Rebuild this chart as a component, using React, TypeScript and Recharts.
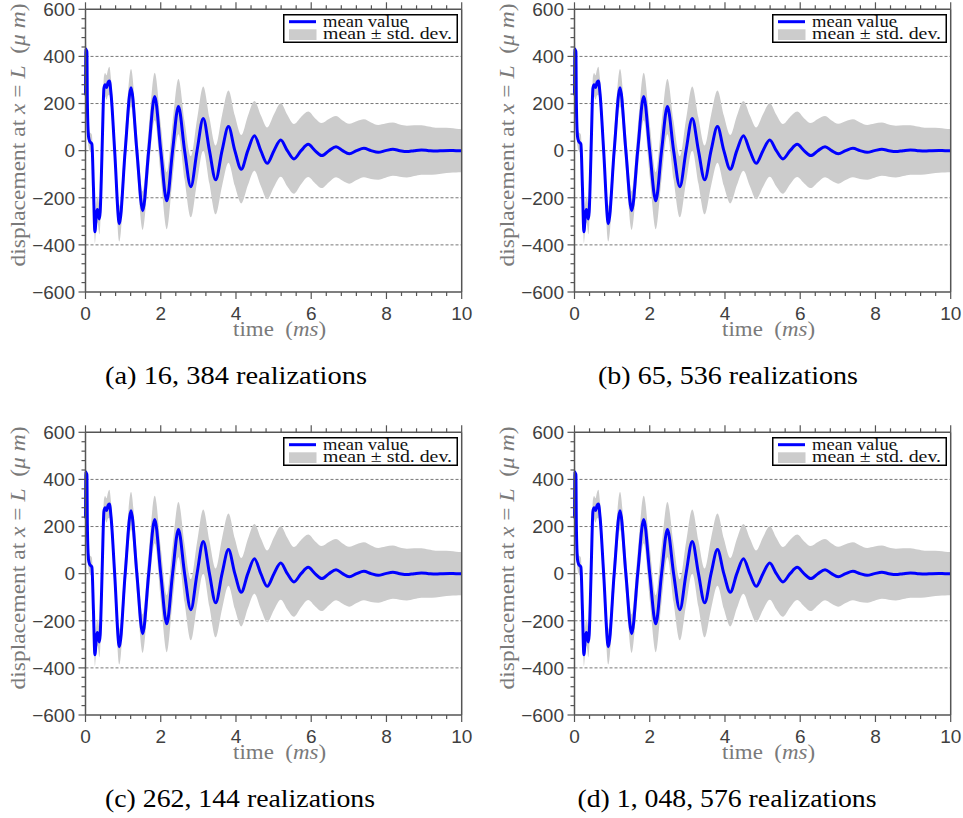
import React from 'react'
import { ComposedChart, Area, Line, XAxis, YAxis, CartesianGrid, Legend } from 'recharts'

// time (ms), mean displacement and standard deviation (micro m)
const time = [
  0.0, 0.012, 0.024, 0.036, 0.05, 0.08, 0.11, 0.17, 0.21, 0.25,
  0.29, 0.315, 0.34, 0.365, 0.39, 0.42, 0.45, 0.49, 0.52, 0.56,
  0.6, 0.635, 0.68, 0.775, 0.9, 1.055, 1.21, 1.365, 1.52, 1.68,
  1.84, 2.0, 2.16, 2.315, 2.47, 2.635, 2.8, 2.965, 3.13, 3.295,
  3.46, 3.63, 3.8, 3.97, 4.14, 4.315, 4.49, 4.66, 4.83, 5.01,
  5.19, 5.365, 5.54, 5.73, 5.92, 6.1, 6.28, 6.47, 6.66, 6.835,
  7.01, 7.205, 7.4, 7.59, 7.78, 7.975, 8.17, 8.355, 8.54, 8.735,
  8.93, 9.12, 9.31, 9.5, 9.69, 9.85, 10.0,
]
const meanValue = [
  235, 432, 236, 425, 200, 60, 40, 28, -150, -344,
  -268, -250, -262, -290, -260, -120, 60, 265, 280, 268,
  290, 296, 240, 0, -310, 0, 267, 0, -255, 0,
  230, 0, -213, 0, 187, 0, -153, 0, 137, 0,
  -124, 0, 102, 0, -79, 0, 63, 0, -54, 0,
  45, 0, -35, 0, 27, 0, -21, 0, 17, 0,
  -13, 0, 10, 0, -7, 0, 6, 0, -4, 0,
  3, 0, -2, 0, 1, 0, 0,
]
const stdDev = [
  50, 50, 50, 50, 45, 40, 40, 40, 45, 50,
  55, 55, 60, 65, 60, 55, 50, 50, 50, 52,
  56, 60, 62, 68, 76, 78, 80, 81, 82, 92,
  101, 112, 121, 119, 117, 124, 130, 133, 135, 140,
  146, 150, 153, 149, 145, 147, 148, 150, 152, 154,
  156, 152, 148, 143, 139, 138, 138, 134, 130, 128,
  127, 125, 123, 120, 116, 115, 113, 111, 110, 108,
  105, 102, 99, 97, 95, 93, 92,
]

const xTicks = [
  0, 0.4, 0.8, 1.2, 1.6, 2, 2.4, 2.8, 3.2, 3.6, 4, 4.4, 4.8, 5.2, 5.6,
  6, 6.4, 6.8, 7.2, 7.6, 8, 8.4, 8.8, 9.2, 9.6, 10,
]
const yTicks = [
  -600, -560, -520, -480, -440, -400, -360, -320, -280, -240, -200, -160, -120, -80, -40,
  0, 40, 80, 120, 160, 200, 240, 280, 320, 360, 400, 440, 480, 520, 560, 600,
]
const gridValues = [-400, -200, 0, 200, 400]
const captions = [
  '(a) 16, 384 realizations',
  '(b) 65, 536 realizations',
  '(c) 262, 144 realizations',
  '(d) 1, 048, 576 realizations',
]

const rows = time.map((t, i) => ({
  t,
  mean: meanValue[i],
  band: [meanValue[i] - stdDev[i], meanValue[i] + stdDev[i]],
}))

const AX = '#555'
const SANS = '"Liberation Sans", Arial, sans-serif'
const SERIF = '"Liberation Serif", "DejaVu Serif", serif'

function AxisTick(props: any) {
  const { x, y, payload, side } = props
  const v = payload.value
  const horizontal = side === 'bottom' || side === 'top'
  const major = horizontal ? v % 2 === 0 : v % 200 === 0
  const len = major ? 7 : 4
  const text = v < 0 ? `\u2212${-v}` : `${v}`
  const lbl = { fontFamily: SANS, fontSize: 19, fill: '#404040' }
  if (side === 'bottom') {
    return (
      <g>
        <line x1={x} y1={y} x2={x} y2={y + len} stroke={AX} strokeWidth={1.2} />
        {major && <text x={x} y={y + 28} textAnchor="middle" {...lbl}>{text}</text>}
      </g>
    )
  }
  if (side === 'top') {
    return <line x1={x} y1={y} x2={x} y2={y - len} stroke={AX} strokeWidth={1.2} />
  }
  if (side === 'left') {
    return (
      <g>
        <line x1={x} y1={y} x2={x - len} y2={y} stroke={AX} strokeWidth={1.2} />
        {major && <text x={x - 10.5} y={y + 6.8} textAnchor="end" {...lbl}>{text}</text>}
      </g>
    )
  }
  return <line x1={x} y1={y} x2={x + len} y2={y} stroke={AX} strokeWidth={1.2} />
}

function XLabel(props: any) {
  const { viewBox } = props
  const cx = viewBox.x + viewBox.width / 2 + 6
  return (
    <text x={cx} y={viewBox.y + 44} textAnchor="middle" fontFamily={SERIF} fontSize={20} fill="#7a7a7a"
      textLength={93} lengthAdjust="spacingAndGlyphs">
      time{'\u00a0\u00a0'}(<tspan fontStyle="italic">ms</tspan>)
    </text>
  )
}

function YLabel() {
  return (
    <text x={0} y={0} transform="translate(25,135) rotate(-90)" textAnchor="middle" fontFamily={SERIF}
      fontSize={20} fill="#7a7a7a" textLength={263} lengthAdjust="spacingAndGlyphs">
      displacement at <tspan fontStyle="italic">x</tspan> = <tspan fontStyle="italic">L</tspan>
      {'\u00a0\u00a0'}(<tspan fontStyle="italic">μ m</tspan>)
    </text>
  )
}

function LegendBox() {
  return (
    <svg width={175} height={29} style={{ display: 'block' }}>
      <rect x={0.75} y={0.75} width={173.5} height={27.5} fill="#fff" stroke="#000" strokeWidth={1.5} />
      <line x1={6} y1={7.7} x2={33} y2={7.7} stroke="#0000ff" strokeWidth={3} />
      <rect x={6} y={15.3} width={27.5} height={10.7} fill="#cccccc" />
      <text x={40} y={13} fontFamily={SERIF} fontSize={16} fill="#111" textLength={85}
        lengthAdjust="spacingAndGlyphs">mean value</text>
      <text x={40} y={25.3} fontFamily={SERIF} fontSize={16} fill="#111" textLength={129}
        lengthAdjust="spacingAndGlyphs">mean ± std. dev.</text>
    </svg>
  )
}

function Panel({ left, top }: { left: number; top: number }) {
  return (
    <div style={{ position: 'absolute', left, top }}>
      <ComposedChart width={481} height={340} data={rows} margin={{ top: 0, right: 0, bottom: 0, left: 0 }}>
        <CartesianGrid xAxisId="b" yAxisId="l" vertical={false} horizontalValues={gridValues}
          stroke="#777" strokeDasharray="3 2" />
        <Area xAxisId="b" yAxisId="l" dataKey="band" type="monotone" stroke="none" fill="#cccccc"
          fillOpacity={1} isAnimationActive={false} />
        <Line xAxisId="b" yAxisId="l" dataKey="mean" type="monotone" stroke="#0000ff" strokeWidth={3}
          dot={false} activeDot={false} isAnimationActive={false} />
        <XAxis xAxisId="b" dataKey="t" type="number" domain={[0, 10]} ticks={xTicks} interval={0}
          height={48} tickSize={0} tickMargin={0} tickLine={false}
          axisLine={{ stroke: AX, strokeWidth: 1.5 }} tick={<AxisTick side="bottom" />} label={<XLabel />} />
        <XAxis xAxisId="top" orientation="top" dataKey="t" type="number" domain={[0, 10]} ticks={xTicks}
          interval={0} height={9.3} tickSize={0} tickMargin={0} tickLine={false}
          axisLine={{ stroke: AX, strokeWidth: 1.5 }} tick={<AxisTick side="top" />} />
        <YAxis yAxisId="l" type="number" domain={[-600, 600]} ticks={yTicks} interval={0} width={85.5}
          tickSize={0} tickMargin={0} tickLine={false} axisLine={{ stroke: AX, strokeWidth: 1.5 }}
          tick={<AxisTick side="left" />} label={<YLabel />} />
        <YAxis yAxisId="r" orientation="right" type="number" domain={[-600, 600]} ticks={yTicks}
          interval={0} width={19.3} tickSize={0} tickMargin={0} tickLine={false}
          axisLine={{ stroke: AX, strokeWidth: 1.5 }} tick={<AxisTick side="right" />} />
        <Legend layout="horizontal" verticalAlign="middle" align="center" content={() => <LegendBox />}
          wrapperStyle={{ left: 283, top: 14, width: 175, height: 29 }} />
      </ComposedChart>
    </div>
  )
}

export default function App() {
  const spots = [
    { left: 0, top: 0, cx: 236, cy: 384 },
    { left: 488.5, top: 0, cx: 728, cy: 384 },
    { left: 0, top: 423.4, cx: 240, cy: 807 },
    { left: 488.5, top: 423.4, cx: 727, cy: 807 },
  ]
  const widths = [262, 260, 270, 299]
  return (
    <div style={{ position: 'absolute', left: 0, top: 0, width: 963, height: 818, background: '#fff' }}>
      {spots.map((s, i) => (
        <Panel key={i} left={s.left} top={s.top} />
      ))}
      <svg width={963} height={818} style={{ position: 'absolute', left: 0, top: 0, pointerEvents: 'none' }}>
        {spots.map((s, i) => (
          <text key={i} x={s.cx} y={s.cy} textAnchor="middle" fontFamily={SERIF} fontSize={25} fill="#000"
            textLength={widths[i]} lengthAdjust="spacingAndGlyphs">
            {captions[i]}
          </text>
        ))}
      </svg>
    </div>
  )
}
